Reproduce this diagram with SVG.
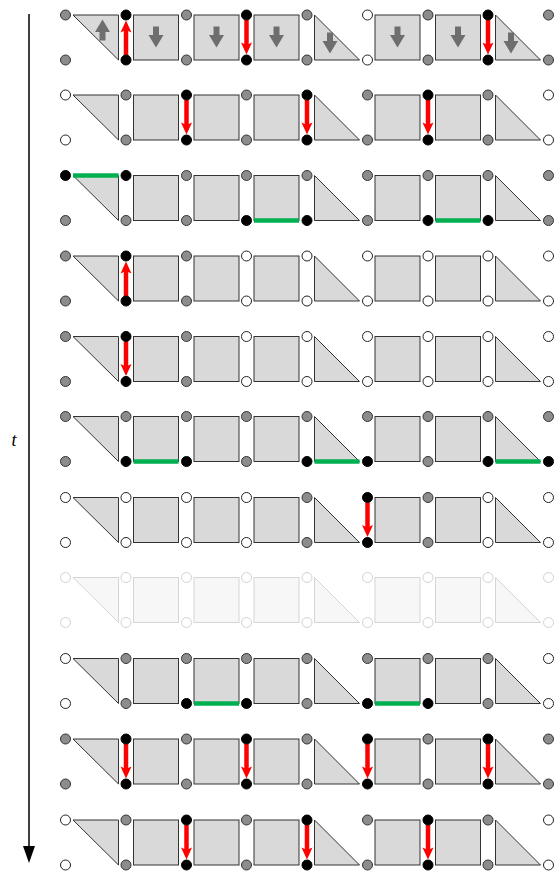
<svg xmlns="http://www.w3.org/2000/svg" xmlns:xlink="http://www.w3.org/1999/xlink" width="558" height="871" viewBox="0 0 558 871">
<style>
.sh{fill:#d9d9d9;stroke:#333;stroke-width:1}
.g{fill:#8c8c8c;stroke:#333;stroke-width:1}
.w{fill:#fff;stroke:#222;stroke-width:1}
.b{fill:#000;stroke:#000;stroke-width:1}
.ra{stroke:#ff0000;stroke-width:4.5;fill:none;marker-end:url(#rh)}
.gr{stroke:#00b050;stroke-width:4.5;fill:none}
.ga{fill:#6e6e6e}
.ax{stroke:#000;stroke-width:1.5;fill:none}
.lbl{font-family:"Liberation Serif",serif;font-style:italic;font-size:18px;fill:#000}
</style>
<defs>
<marker id="rh" markerUnits="userSpaceOnUse" markerWidth="14" markerHeight="12" refX="3" refY="6" orient="auto" overflow="visible">
<path d="M0,0.5 L12,6 L0,11.5 L2.5,6 Z" fill="#ff0000"/>
</marker>
<g id="tiles">
<path class="sh" d="M73,0H118.5V45Z"/>
<rect class="sh" x="133.5" y="0" width="45" height="45"/>
<rect class="sh" x="194" y="0" width="45" height="45"/>
<rect class="sh" x="254" y="0" width="45" height="45"/>
<path class="sh" d="M314.5,0V45H359.5Z"/>
<rect class="sh" x="375" y="0" width="45" height="45"/>
<rect class="sh" x="435.5" y="0" width="45" height="45"/>
<path class="sh" d="M495.5,0V45H540.5Z"/>
</g>
<path id="garrow" class="ga" d="M-3,-10.5H3V-2H7.5L0,10.5L-7.5,-2H-3Z"/>
</defs>

<g id="time-axis">
<line class="ax" x1="29" y1="14" x2="29" y2="848"/>
<path d="M23,846L35,846L29,863Z" fill="#000"/>
<text class="lbl" x="14" y="446" text-anchor="middle">t</text>
</g>

<!-- Row 0 -->
<g id="row0" transform="translate(0,15)">
<use xlink:href="#tiles"/>
<g id="row0-flow">
<use xlink:href="#garrow" transform="translate(102.5,15) rotate(180)"/>
<use xlink:href="#garrow" transform="translate(156,22)"/>
<use xlink:href="#garrow" transform="translate(216.5,22)"/>
<use xlink:href="#garrow" transform="translate(276.5,22)"/>
<use xlink:href="#garrow" transform="translate(330,28)"/>
<use xlink:href="#garrow" transform="translate(397.5,22)"/>
<use xlink:href="#garrow" transform="translate(458,22)"/>
<use xlink:href="#garrow" transform="translate(511,28)"/>
</g>
<g id="row0-connectors">
<line class="ra" x1="126" y1="40" x2="126" y2="14.5"/>
<line class="ra" x1="246.5" y1="5" x2="246.5" y2="30.5"/>
<line class="ra" x1="488" y1="5" x2="488" y2="30.5"/>
</g>
<g id="row0-nodes">
<circle class="g" cx="65.5" cy="0" r="5"/><circle class="g" cx="65.5" cy="45" r="5"/>
<circle class="b" cx="126" cy="0" r="5"/><circle class="b" cx="126" cy="45" r="5"/>
<circle class="g" cx="186.5" cy="0" r="5"/><circle class="g" cx="186.5" cy="45" r="5"/>
<circle class="b" cx="246.5" cy="0" r="5"/><circle class="b" cx="246.5" cy="45" r="5"/>
<circle class="g" cx="307" cy="0" r="5"/><circle class="g" cx="307" cy="45" r="5"/>
<circle class="w" cx="367.5" cy="0" r="5"/><circle class="w" cx="367.5" cy="45" r="5"/>
<circle class="g" cx="428" cy="0" r="5"/><circle class="g" cx="428" cy="45" r="5"/>
<circle class="b" cx="488" cy="0" r="5"/><circle class="b" cx="488" cy="45" r="5"/>
<circle class="g" cx="548.5" cy="0" r="5"/><circle class="g" cx="548.5" cy="45" r="5"/>
</g>
</g>

<!-- Row 1 -->
<g id="row1" transform="translate(0,95)">
<use xlink:href="#tiles"/>
<g id="row1-connectors">
<line class="ra" x1="186.5" y1="5" x2="186.5" y2="30.5"/>
<line class="ra" x1="307" y1="5" x2="307" y2="30.5"/>
<line class="ra" x1="428" y1="5" x2="428" y2="30.5"/>
</g>
<g id="row1-nodes">
<circle class="w" cx="65.5" cy="0" r="5"/><circle class="w" cx="65.5" cy="45" r="5"/>
<circle class="g" cx="126" cy="0" r="5"/><circle class="g" cx="126" cy="45" r="5"/>
<circle class="b" cx="186.5" cy="0" r="5"/><circle class="b" cx="186.5" cy="45" r="5"/>
<circle class="g" cx="246.5" cy="0" r="5"/><circle class="g" cx="246.5" cy="45" r="5"/>
<circle class="b" cx="307" cy="0" r="5"/><circle class="b" cx="307" cy="45" r="5"/>
<circle class="g" cx="367.5" cy="0" r="5"/><circle class="g" cx="367.5" cy="45" r="5"/>
<circle class="b" cx="428" cy="0" r="5"/><circle class="b" cx="428" cy="45" r="5"/>
<circle class="g" cx="488" cy="0" r="5"/><circle class="g" cx="488" cy="45" r="5"/>
<circle class="w" cx="548.5" cy="0" r="5"/><circle class="w" cx="548.5" cy="45" r="5"/>
</g>
</g>

<!-- Row 2 -->
<g id="row2" transform="translate(0,175.5)">
<use xlink:href="#tiles"/>
<g id="row2-connectors">
<line class="gr" x1="73" y1="0" x2="118.5" y2="0"/>
<line class="gr" x1="254" y1="45" x2="299" y2="45"/>
<line class="gr" x1="435.5" y1="45" x2="480.5" y2="45"/>
</g>
<g id="row2-nodes">
<circle class="b" cx="65.5" cy="0" r="5"/><circle class="g" cx="65.5" cy="45" r="5"/>
<circle class="b" cx="126" cy="0" r="5"/><circle class="g" cx="126" cy="45" r="5"/>
<circle class="g" cx="186.5" cy="0" r="5"/><circle class="g" cx="186.5" cy="45" r="5"/>
<circle class="g" cx="246.5" cy="0" r="5"/><circle class="b" cx="246.5" cy="45" r="5"/>
<circle class="g" cx="307" cy="0" r="5"/><circle class="b" cx="307" cy="45" r="5"/>
<circle class="g" cx="367.5" cy="0" r="5"/><circle class="g" cx="367.5" cy="45" r="5"/>
<circle class="g" cx="428" cy="0" r="5"/><circle class="b" cx="428" cy="45" r="5"/>
<circle class="g" cx="488" cy="0" r="5"/><circle class="b" cx="488" cy="45" r="5"/>
<circle class="g" cx="548.5" cy="0" r="5"/><circle class="g" cx="548.5" cy="45" r="5"/>
</g>
</g>

<!-- Row 3 -->
<g id="row3" transform="translate(0,256)">
<use xlink:href="#tiles"/>
<g id="row3-connectors">
<line class="ra" x1="126" y1="40" x2="126" y2="14.5"/>
</g>
<g id="row3-nodes">
<circle class="g" cx="65.5" cy="0" r="5"/><circle class="g" cx="65.5" cy="45" r="5"/>
<circle class="b" cx="126" cy="0" r="5"/><circle class="b" cx="126" cy="45" r="5"/>
<circle class="g" cx="186.5" cy="0" r="5"/><circle class="g" cx="186.5" cy="45" r="5"/>
<circle class="w" cx="246.5" cy="0" r="5"/><circle class="w" cx="246.5" cy="45" r="5"/>
<circle class="w" cx="307" cy="0" r="5"/><circle class="w" cx="307" cy="45" r="5"/>
<circle class="w" cx="367.5" cy="0" r="5"/><circle class="w" cx="367.5" cy="45" r="5"/>
<circle class="w" cx="428" cy="0" r="5"/><circle class="w" cx="428" cy="45" r="5"/>
<circle class="w" cx="488" cy="0" r="5"/><circle class="w" cx="488" cy="45" r="5"/>
<circle class="w" cx="548.5" cy="0" r="5"/><circle class="w" cx="548.5" cy="45" r="5"/>
</g>
</g>

<!-- Row 4 -->
<g id="row4" transform="translate(0,336.5)">
<use xlink:href="#tiles"/>
<g id="row4-connectors">
<line class="ra" x1="126" y1="5" x2="126" y2="30.5"/>
</g>
<g id="row4-nodes">
<circle class="g" cx="65.5" cy="0" r="5"/><circle class="g" cx="65.5" cy="45" r="5"/>
<circle class="b" cx="126" cy="0" r="5"/><circle class="b" cx="126" cy="45" r="5"/>
<circle class="g" cx="186.5" cy="0" r="5"/><circle class="g" cx="186.5" cy="45" r="5"/>
<circle class="w" cx="246.5" cy="0" r="5"/><circle class="w" cx="246.5" cy="45" r="5"/>
<circle class="w" cx="307" cy="0" r="5"/><circle class="w" cx="307" cy="45" r="5"/>
<circle class="w" cx="367.5" cy="0" r="5"/><circle class="w" cx="367.5" cy="45" r="5"/>
<circle class="w" cx="428" cy="0" r="5"/><circle class="w" cx="428" cy="45" r="5"/>
<circle class="w" cx="488" cy="0" r="5"/><circle class="w" cx="488" cy="45" r="5"/>
<circle class="w" cx="548.5" cy="0" r="5"/><circle class="w" cx="548.5" cy="45" r="5"/>
</g>
</g>

<!-- Row 5 -->
<g id="row5" transform="translate(0,416.5)">
<use xlink:href="#tiles"/>
<g id="row5-connectors">
<line class="gr" x1="133.5" y1="45" x2="178.5" y2="45"/>
<line class="gr" x1="314.5" y1="45" x2="359.5" y2="45"/>
<line class="gr" x1="495.5" y1="45" x2="540.5" y2="45"/>
</g>
<g id="row5-nodes">
<circle class="g" cx="65.5" cy="0" r="5"/><circle class="g" cx="65.5" cy="45" r="5"/>
<circle class="g" cx="126" cy="0" r="5"/><circle class="b" cx="126" cy="45" r="5"/>
<circle class="g" cx="186.5" cy="0" r="5"/><circle class="b" cx="186.5" cy="45" r="5"/>
<circle class="g" cx="246.5" cy="0" r="5"/><circle class="g" cx="246.5" cy="45" r="5"/>
<circle class="g" cx="307" cy="0" r="5"/><circle class="b" cx="307" cy="45" r="5"/>
<circle class="g" cx="367.5" cy="0" r="5"/><circle class="b" cx="367.5" cy="45" r="5"/>
<circle class="g" cx="428" cy="0" r="5"/><circle class="g" cx="428" cy="45" r="5"/>
<circle class="g" cx="488" cy="0" r="5"/><circle class="b" cx="488" cy="45" r="5"/>
<circle class="g" cx="548.5" cy="0" r="5"/><circle class="b" cx="548.5" cy="45" r="5"/>
</g>
</g>

<!-- Row 6 -->
<g id="row6" transform="translate(0,497.5)">
<use xlink:href="#tiles"/>
<g id="row6-connectors">
<line class="ra" x1="367.5" y1="5" x2="367.5" y2="30.5"/>
</g>
<g id="row6-nodes">
<circle class="w" cx="65.5" cy="0" r="5"/><circle class="w" cx="65.5" cy="45" r="5"/>
<circle class="w" cx="126" cy="0" r="5"/><circle class="w" cx="126" cy="45" r="5"/>
<circle class="w" cx="186.5" cy="0" r="5"/><circle class="w" cx="186.5" cy="45" r="5"/>
<circle class="w" cx="246.5" cy="0" r="5"/><circle class="w" cx="246.5" cy="45" r="5"/>
<circle class="g" cx="307" cy="0" r="5"/><circle class="g" cx="307" cy="45" r="5"/>
<circle class="b" cx="367.5" cy="0" r="5"/><circle class="b" cx="367.5" cy="45" r="5"/>
<circle class="g" cx="428" cy="0" r="5"/><circle class="g" cx="428" cy="45" r="5"/>
<circle class="w" cx="488" cy="0" r="5"/><circle class="w" cx="488" cy="45" r="5"/>
<circle class="w" cx="548.5" cy="0" r="5"/><circle class="w" cx="548.5" cy="45" r="5"/>
</g>
</g>

<!-- Row 7 (faded) -->
<g id="row7" transform="translate(0,577.5)" opacity="0.2">
<use xlink:href="#tiles"/>
<g id="row7-nodes">
<circle class="w" cx="65.5" cy="0" r="5"/><circle class="w" cx="65.5" cy="45" r="5"/>
<circle class="w" cx="126" cy="0" r="5"/><circle class="w" cx="126" cy="45" r="5"/>
<circle class="w" cx="186.5" cy="0" r="5"/><circle class="w" cx="186.5" cy="45" r="5"/>
<circle class="w" cx="246.5" cy="0" r="5"/><circle class="w" cx="246.5" cy="45" r="5"/>
<circle class="w" cx="307" cy="0" r="5"/><circle class="w" cx="307" cy="45" r="5"/>
<circle class="w" cx="367.5" cy="0" r="5"/><circle class="w" cx="367.5" cy="45" r="5"/>
<circle class="w" cx="428" cy="0" r="5"/><circle class="w" cx="428" cy="45" r="5"/>
<circle class="w" cx="488" cy="0" r="5"/><circle class="w" cx="488" cy="45" r="5"/>
<circle class="w" cx="548.5" cy="0" r="5"/><circle class="w" cx="548.5" cy="45" r="5"/>
</g>
</g>

<!-- Row 8 -->
<g id="row8" transform="translate(0,658.5)">
<use xlink:href="#tiles"/>
<g id="row8-connectors">
<line class="gr" x1="194" y1="45" x2="239" y2="45"/>
<line class="gr" x1="375" y1="45" x2="420" y2="45"/>
</g>
<g id="row8-nodes">
<circle class="w" cx="65.5" cy="0" r="5"/><circle class="w" cx="65.5" cy="45" r="5"/>
<circle class="g" cx="126" cy="0" r="5"/><circle class="g" cx="126" cy="45" r="5"/>
<circle class="g" cx="186.5" cy="0" r="5"/><circle class="b" cx="186.5" cy="45" r="5"/>
<circle class="g" cx="246.5" cy="0" r="5"/><circle class="b" cx="246.5" cy="45" r="5"/>
<circle class="g" cx="307" cy="0" r="5"/><circle class="g" cx="307" cy="45" r="5"/>
<circle class="g" cx="367.5" cy="0" r="5"/><circle class="b" cx="367.5" cy="45" r="5"/>
<circle class="g" cx="428" cy="0" r="5"/><circle class="b" cx="428" cy="45" r="5"/>
<circle class="g" cx="488" cy="0" r="5"/><circle class="g" cx="488" cy="45" r="5"/>
<circle class="w" cx="548.5" cy="0" r="5"/><circle class="w" cx="548.5" cy="45" r="5"/>
</g>
</g>

<!-- Row 9 -->
<g id="row9" transform="translate(0,739)">
<use xlink:href="#tiles"/>
<g id="row9-connectors">
<line class="ra" x1="126" y1="5" x2="126" y2="30.5"/>
<line class="ra" x1="246.5" y1="5" x2="246.5" y2="30.5"/>
<line class="ra" x1="367.5" y1="5" x2="367.5" y2="30.5"/>
<line class="ra" x1="488" y1="5" x2="488" y2="30.5"/>
</g>
<g id="row9-nodes">
<circle class="g" cx="65.5" cy="0" r="5"/><circle class="g" cx="65.5" cy="45" r="5"/>
<circle class="b" cx="126" cy="0" r="5"/><circle class="b" cx="126" cy="45" r="5"/>
<circle class="g" cx="186.5" cy="0" r="5"/><circle class="g" cx="186.5" cy="45" r="5"/>
<circle class="b" cx="246.5" cy="0" r="5"/><circle class="b" cx="246.5" cy="45" r="5"/>
<circle class="g" cx="307" cy="0" r="5"/><circle class="g" cx="307" cy="45" r="5"/>
<circle class="b" cx="367.5" cy="0" r="5"/><circle class="b" cx="367.5" cy="45" r="5"/>
<circle class="g" cx="428" cy="0" r="5"/><circle class="g" cx="428" cy="45" r="5"/>
<circle class="b" cx="488" cy="0" r="5"/><circle class="b" cx="488" cy="45" r="5"/>
<circle class="g" cx="548.5" cy="0" r="5"/><circle class="g" cx="548.5" cy="45" r="5"/>
</g>
</g>

<!-- Row 10 -->
<g id="row10" transform="translate(0,820)">
<use xlink:href="#tiles"/>
<g id="row10-connectors">
<line class="ra" x1="186.5" y1="5" x2="186.5" y2="30.5"/>
<line class="ra" x1="307" y1="5" x2="307" y2="30.5"/>
<line class="ra" x1="428" y1="5" x2="428" y2="30.5"/>
</g>
<g id="row10-nodes">
<circle class="w" cx="65.5" cy="0" r="5"/><circle class="w" cx="65.5" cy="45" r="5"/>
<circle class="g" cx="126" cy="0" r="5"/><circle class="g" cx="126" cy="45" r="5"/>
<circle class="b" cx="186.5" cy="0" r="5"/><circle class="b" cx="186.5" cy="45" r="5"/>
<circle class="g" cx="246.5" cy="0" r="5"/><circle class="g" cx="246.5" cy="45" r="5"/>
<circle class="b" cx="307" cy="0" r="5"/><circle class="b" cx="307" cy="45" r="5"/>
<circle class="g" cx="367.5" cy="0" r="5"/><circle class="g" cx="367.5" cy="45" r="5"/>
<circle class="b" cx="428" cy="0" r="5"/><circle class="b" cx="428" cy="45" r="5"/>
<circle class="g" cx="488" cy="0" r="5"/><circle class="g" cx="488" cy="45" r="5"/>
<circle class="w" cx="548.5" cy="0" r="5"/><circle class="w" cx="548.5" cy="45" r="5"/>
</g>
</g>
</svg>
